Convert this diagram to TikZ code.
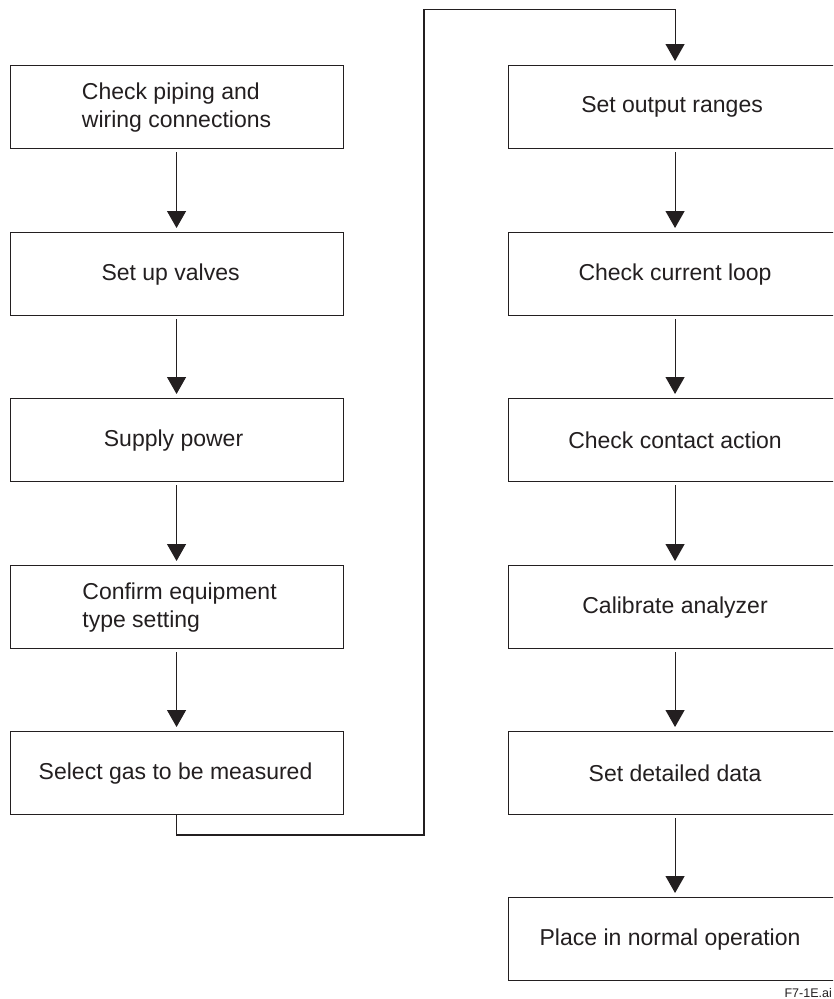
\documentclass[tikz,border=0pt]{standalone}
\usepackage{fontspec}
\setmainfont{Liberation Sans}
\usetikzlibrary{arrows.meta}
\definecolor{ink}{HTML}{231F20}
\begin{document}
\begin{tikzpicture}[x=1pt,y=-1pt,
  stepbox/.style={draw=ink,line width=1.1pt,minimum width=333pt,minimum height=83pt,
    inner sep=0pt,font=\fontsize{23}{28}\selectfont,text=ink,anchor=north west},
  flow/.style={draw=ink,line width=1.1pt,-{Triangle[width=19pt,length=17pt]},shorten >=4pt,shorten <=3pt}]
\clip (0,0) rectangle (833,999);
\fill[white] (0,0) rectangle (833,999);
% left column
\node[stepbox] (l1) at (9.5,65) {};
\node[stepbox] (l2) at (9.5,232) {};
\node[stepbox] (l3) at (9.5,398) {};
\node[stepbox] (l4) at (9.5,565) {};
\node[stepbox] (l5) at (9.5,731) {};
% right column
\node[stepbox] (r1) at (508,65) {};
\node[stepbox] (r2) at (508,232) {};
\node[stepbox] (r3) at (508,398) {};
\node[stepbox] (r4) at (508,565) {};
\node[stepbox] (r5) at (508,731) {};
\node[stepbox] (r6) at (508,897) {};
% texts
\begin{scope}[every node/.style={font=\fontsize{23}{28}\selectfont,text=ink,inner sep=0pt}]
\node[align=left] (t1) at (l1.center) {Check piping and\\wiring connections};
\node (t2) at ([xshift=-6pt]l2.center) {Set up valves};
\node (t3) at ([xshift=-3pt]l3.center) {Supply power};
\node[align=left] (t4) at ([xshift=3pt]l4.center) {Confirm equipment\\type setting};
\node (t5) at ([xshift=-1pt]l5.center) {Select gas to be measured};
\node (t6) at ([xshift=-3pt]r1.center) {Set output ranges};
\node (t7) at (r2.center) {Check current loop};
\node (t8) at (r3.center) {Check contact action};
\node (t9) at (r4.center) {Calibrate analyzer};
\node (t10) at (r5.center) {Set detailed data};
\node (t11) at ([xshift=-5pt]r6.center) {Place in normal operation};
\end{scope}
\node[anchor=base east,inner sep=0pt,font=\fontsize{12.5}{14}\selectfont,text=ink] (fig) at (832,997) {F7-1E.ai};
% arrows
\foreach \a/\b in {l1/l2,l2/l3,l3/l4,l4/l5,r1/r2,r2/r3,r3/r4,r4/r5,r5/r6}
  \draw[flow] (\a.south) -- (\b.north);
\coordinate (c1) at (424,835);
\coordinate (c2) at (424,9.5);
\draw[draw=ink,line width=1.1pt,-{Triangle[width=19pt,length=17pt]},shorten >=4pt]
  (l5.south) |- (c1) -- (c2) -| (r1.north);
\end{tikzpicture}
\end{document}
